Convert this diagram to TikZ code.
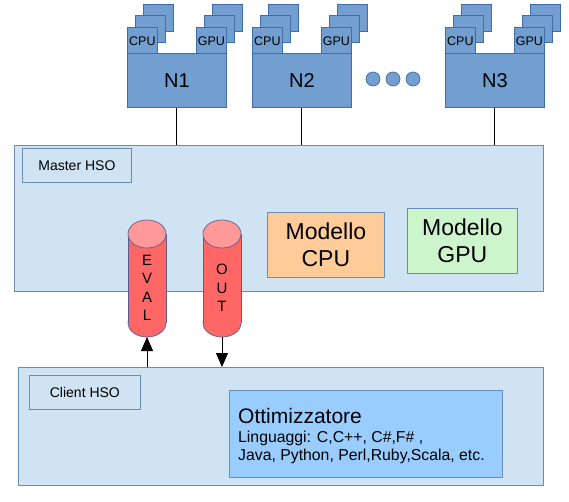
\documentclass[tikz,border=0pt]{standalone}
\usepackage{fontspec}
\setmainfont{Liberation Sans}
\usetikzlibrary{arrows.meta}
\definecolor{bgblue}{HTML}{CFE3F3}
\definecolor{panelborder}{HTML}{6A8DB5}
\definecolor{nodefill}{HTML}{729FCF}
\definecolor{nodeborder}{HTML}{3F6EA8}
\definecolor{cpuorange}{HTML}{FFCC99}
\definecolor{gpugreen}{HTML}{CCF5CC}
\definecolor{cylbody}{HTML}{FF6666}
\definecolor{cyltop}{HTML}{FF9999}
\definecolor{cylborder}{HTML}{5E5C8E}
\definecolor{optblue}{HTML}{99CCFF}
\tikzset{
  panel/.style={draw=panelborder, fill=bgblue, line width=0.8pt, inner sep=0pt, anchor=north west},
  chip/.style={draw=nodeborder, fill=nodefill, line width=0.7pt, inner sep=0pt, anchor=north west,
    minimum width=30, minimum height=27, font=\fontsize{12.5}{14}\selectfont},
  nodebox/.style={draw=nodeborder, fill=nodefill, line width=0.7pt, inner sep=0pt, anchor=north west,
    minimum width=99, minimum height=54, font=\fontsize{20}{22}\selectfont},
  dotnode/.style={circle, draw=nodeborder, fill=nodefill, line width=0.7pt, inner sep=0pt, minimum size=14},
  conn/.style={draw=black, line width=0.8pt},
  arr/.style={draw=black, line width=0.8pt, -{Triangle[length=14pt,width=12pt]}},
  labelfont/.style={font=\fontsize{14}{16}\selectfont},
  modfont/.style={font=\fontsize{23}{27}\selectfont, align=center},
  cyltext/.style={font=\fontsize{15}{18.5}\selectfont, align=center, inner sep=0pt}
}
\newcommand\nodegrp[3]{%
  \foreach \d in {2,1}{
    \node[chip] (#1c\d) at (#2+8*\d, 27-11.5*\d) {};
    \node[chip] (#1g\d) at (#2+69+8*\d, 27-11.5*\d) {};
  }
  \node[chip] (#1cpu) at (#2,27) {CPU};
  \node[chip] (#1gpu) at (#2+69,27) {GPU};
  \node[nodebox] (#1) at (#2,53) {#3};
}
\newcommand\cylinderat[3]{%
  \filldraw[fill=cylbody, draw=cylborder, line width=0.7pt] (#2,323) ellipse [x radius=19, y radius=14];
  \fill[cylbody] (#2-19,234) rectangle (#2+19,323);
  \draw[cylborder, line width=0.7pt] (#2-19,234) -- (#2-19,323) (#2+19,234) -- (#2+19,323);
  \filldraw[fill=cyltop, draw=cylborder, line width=0.7pt] (#2,234) ellipse [x radius=19, y radius=14];
  \node[cyltext] (#1) at (#2,288) {#3};
  \coordinate (#1b) at (#2,337);
}
\begin{document}
\begin{tikzpicture}[x=1pt,y=-1pt]
\useasboundingbox (0,0) rectangle (569,502);
% compute nodes
\nodegrp{n1}{127}{N1}
\nodegrp{n2}{252}{N2}
\nodegrp{n3}{445}{N3}
\node[dotnode] (d1) at (373,79) {};
\node[dotnode] (d2) at (393,79) {};
\node[dotnode] (d3) at (413,79) {};
% master
\node[panel, minimum width=529, minimum height=146] (master) at (14,145) {};
\node[panel, labelfont, minimum width=109, minimum height=34] (mlabel) at (22,148) {Master HSO};
\node[panel, modfont, fill=cpuorange, minimum width=117, minimum height=65] (mcpu) at (267,212) {Modello\\CPU};
\node[panel, modfont, fill=gpugreen, minimum width=110, minimum height=65] (mgpu) at (407,208) {Modello\\GPU};
\foreach \n in {n1,n2,n3}{ \draw[conn] (\n.south) -- (\n.south |- master.north); }
% client
\node[panel, minimum width=525, minimum height=118] (client) at (18,367) {};
\node[panel, labelfont, minimum width=111, minimum height=34] (clabel) at (29,375) {Client HSO};
\node[panel, fill=optblue, minimum width=273, minimum height=87] (opt) at (229,390) {};
\node[anchor=base west, inner sep=0pt, font=\fontsize{21}{24}\selectfont] (optt1) at (238,423) {Ottimizzatore};
\node[anchor=base west, inner sep=0pt, font=\fontsize{15.8}{17}\selectfont] (optt2) at (238,442) {Linguaggi: C,C++, C\#,F\# ,};
\node[anchor=base west, inner sep=0pt, font=\fontsize{15.8}{17}\selectfont] (optt3) at (238,460) {Java, Python, Perl,Ruby,Scala, etc.};
% cylinders
\cylinderat{eval}{147}{E\\V\\A\\L}
\cylinderat{out}{222}{O\\U\\T}
\draw[arr] (client.north -| evalb) -- (evalb);
\draw[arr] (outb) -- (client.north -| outb);
\end{tikzpicture}
\end{document}
